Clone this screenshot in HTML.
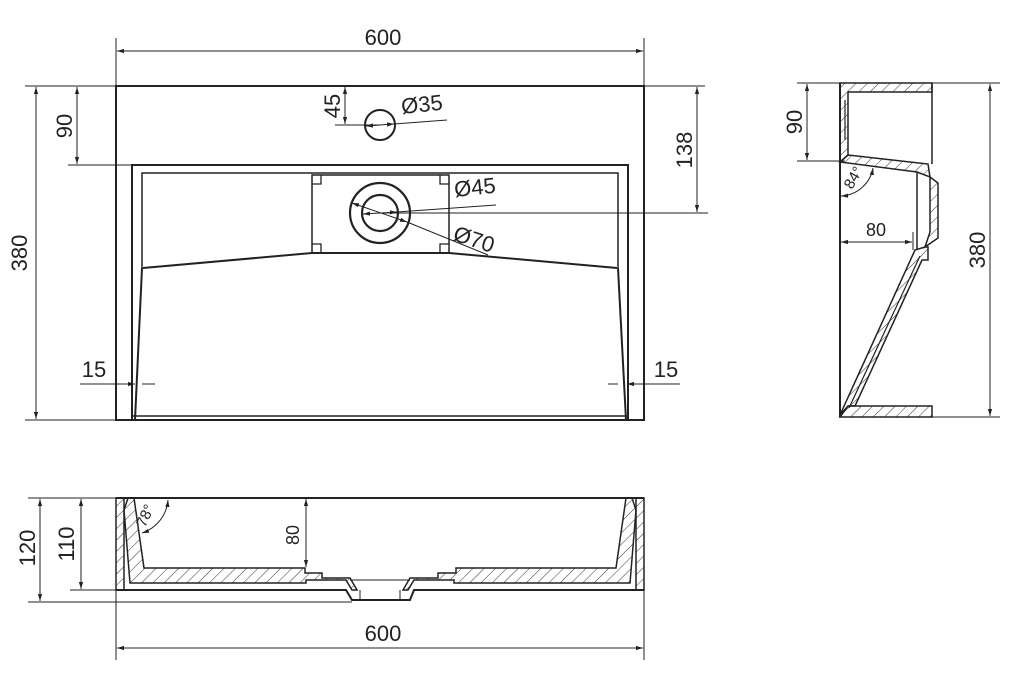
<!DOCTYPE html>
<html><head><meta charset="utf-8"><style>
html,body{margin:0;padding:0;background:#fff;}
svg{display:block;}
text{font-family:"Liberation Sans",sans-serif;fill:#222;}
</style></head><body>
<svg width="1024" height="681" viewBox="0 0 1024 681" xmlns="http://www.w3.org/2000/svg">
<defs>
<pattern id="h" width="8" height="8" patternUnits="userSpaceOnUse" patternTransform="rotate(45)">
<line x1="0" y1="0" x2="0" y2="8" stroke="#333" stroke-width="1"/>
</pattern>
<marker id="a" viewBox="0 0 10 10" refX="10" refY="5" markerWidth="7" markerHeight="7" orient="auto-start-reverse"><path d="M0,2 L10,5 L0,8 z" fill="#222"/></marker>
</defs>
<g stroke="#222" fill="none" stroke-width="1">
<!-- TOP VIEW -->
<rect x="116" y="86" width="528" height="334" stroke-width="2"/>
<path d="M132,420 L132,165 L628,165 L628,420" stroke-width="2"/>
<path d="M142,268 L142,173 L618,173 L618,268" stroke-width="1.5"/>
<path d="M143,268 L312,253 L449,253 L617,268" stroke-width="2"/>
<path d="M142,268 L135,420 M618,268 L626,420" stroke-width="2"/>
<line x1="132" y1="416" x2="628" y2="416" stroke-width="1.5"/>
<rect x="312" y="175" width="137" height="78" stroke-width="1.5"/>
<path d="M312,184h9v-9 M440,175v9h9 M312,244h9v9 M440,253v-9h9" stroke-width="1.3"/>
<circle cx="380" cy="213" r="30" stroke-width="2.2"/>
<circle cx="380" cy="213" r="18" stroke-width="2.2"/>
<circle cx="380" cy="125" r="15" stroke-width="2"/>
<!-- top dims -->
<line x1="116" y1="38" x2="116" y2="86"/><line x1="644" y1="38" x2="644" y2="86"/>
<line x1="117" y1="51" x2="643" y2="51" marker-start="url(#a)" marker-end="url(#a)"/>
<line x1="25" y1="86" x2="116" y2="86"/><line x1="25" y1="420" x2="116" y2="420"/>
<line x1="36" y1="87" x2="36" y2="419" marker-start="url(#a)" marker-end="url(#a)"/>
<line x1="68" y1="165" x2="132" y2="165"/>
<line x1="77" y1="87" x2="77" y2="164" marker-start="url(#a)" marker-end="url(#a)"/>
<line x1="644" y1="86" x2="705" y2="86"/><line x1="380" y1="213" x2="708" y2="213"/>
<line x1="697" y1="87" x2="697" y2="212" marker-start="url(#a)" marker-end="url(#a)"/>
<line x1="335" y1="125" x2="380" y2="125"/>
<line x1="345" y1="87" x2="345" y2="124" marker-start="url(#a)" marker-end="url(#a)"/>
<line x1="366" y1="126" x2="394" y2="124" marker-start="url(#a)" marker-end="url(#a)"/>
<line x1="394" y1="124" x2="447" y2="120"/>
<line x1="363" y1="214" x2="397" y2="212" marker-start="url(#a)" marker-end="url(#a)"/>
<line x1="397" y1="212" x2="496" y2="205"/>
<line x1="352" y1="203" x2="407" y2="222" marker-start="url(#a)" marker-end="url(#a)"/>
<line x1="407" y1="222" x2="488" y2="255"/>
<line x1="80" y1="384" x2="135" y2="384" marker-end="url(#a)"/><line x1="142" y1="384" x2="155" y2="384"/>
<line x1="608" y1="384" x2="618" y2="384"/><line x1="680" y1="384" x2="627" y2="384" marker-end="url(#a)"/>
<!-- SIDE VIEW -->
<path d="M840,83 L932,83 L932,92 L848,92 L848,155 L840,162 Z" fill="url(#h)" stroke-width="1.5"/>
<path d="M840,162 L848,155 L928,164 L930,177 L917,172 Z" fill="url(#h)" stroke-width="1.5"/>
<path d="M845,100 L845,140" stroke-width="1.2"/>
<path d="M930,177 L938,183 L938,238 L925,247 L930,232 L930,188 Z" fill="url(#h)" stroke-width="1.5"/>
<path d="M917,172 L917,250" stroke-width="1.5"/>
<path d="M840,415 L915,250 L925,247 L928,247 L928,260 L922,260 L855,406 L848,406 Z" fill="url(#h)" stroke-width="1.5"/>
<path d="M920,256 L849,408" stroke-width="1.2"/>
<path d="M855,406 L932,406 L932,417 L840,417 L848,406 Z" fill="url(#h)" stroke-width="1.5"/>
<line x1="840" y1="83" x2="840" y2="417" stroke-width="2"/>
<line x1="932" y1="83" x2="932" y2="164" stroke-width="1.5"/>
<line x1="932" y1="83" x2="1000" y2="83"/><line x1="932" y1="417" x2="1000" y2="417"/>
<line x1="990" y1="84" x2="990" y2="416" marker-start="url(#a)" marker-end="url(#a)"/>
<line x1="797" y1="83" x2="840" y2="83"/><line x1="797" y1="161" x2="845" y2="161"/>
<line x1="807" y1="84" x2="807" y2="160" marker-start="url(#a)" marker-end="url(#a)"/>
<line x1="841" y1="242" x2="912" y2="242" marker-start="url(#a)" marker-end="url(#a)"/>
<line x1="913" y1="232" x2="913" y2="250"/>
<path d="M841,196 A34,34 0 0 0 873,168" marker-start="url(#a)" marker-end="url(#a)"/>
<!-- BOTTOM VIEW -->
<path d="M116,498 L124,498 L124,590 L116,590 Z M636,498 L644,498 L644,590 L636,590 Z" fill="url(#h)" stroke-width="1.5"/>
<path d="M124,510 L128,498 L134,498 L144,568 L305,568 L305,573 L322,573 L322,578 L350,578 L357,590 L352,590 L346,580 L306,580 L306,583 L130,583 Z" fill="url(#h)" stroke-width="1.5"/>
<path d="M636,510 L632,498 L626,498 L616,568 L456,568 L456,573 L438,573 L438,578 L410,578 L403,590 L408,590 L414,580 L454,580 L454,583 L630,583 Z" fill="url(#h)" stroke-width="1.5"/>
<line x1="116" y1="498" x2="644" y2="498" stroke-width="2"/>
<path d="M116,590 L346,590 L352,600 L410,600 L414,590 L644,590" stroke-width="2"/>
<path d="M360,590 L360,600 M400,590 L400,600 M350,580 L410,580"/>
<line x1="116" y1="590" x2="116" y2="660"/><line x1="644" y1="590" x2="644" y2="660"/>
<line x1="117" y1="648" x2="643" y2="648" marker-start="url(#a)" marker-end="url(#a)"/>
<line x1="28" y1="498" x2="116" y2="498"/><line x1="28" y1="602" x2="352" y2="602"/><line x1="70" y1="590" x2="116" y2="590"/>
<line x1="40" y1="499" x2="40" y2="601" marker-start="url(#a)" marker-end="url(#a)"/>
<line x1="81" y1="499" x2="81" y2="589" marker-start="url(#a)" marker-end="url(#a)"/>
<line x1="306" y1="499" x2="306" y2="567" marker-start="url(#a)" marker-end="url(#a)"/>
<path d="M142,533 A38,38 0 0 0 168,500" marker-start="url(#a)" marker-end="url(#a)"/>
</g>
<g font-size="22">
<text x="383" y="45" text-anchor="middle">600</text>
<text x="383" y="641" text-anchor="middle">600</text>
<text transform="translate(27,253) rotate(-90)" text-anchor="middle">380</text>
<text transform="translate(72,126) rotate(-90)" text-anchor="middle">90</text>
<text transform="translate(692,150) rotate(-90)" text-anchor="middle">138</text>
<text transform="translate(340,106) rotate(-90)" text-anchor="middle">45</text>
<text transform="translate(402,114) rotate(-6)">Ø35</text>
<text transform="translate(455,197) rotate(-6)">Ø45</text>
<text transform="translate(452,240) rotate(18)">Ø70</text>
<text x="94" y="377" text-anchor="middle">15</text>
<text x="666" y="377" text-anchor="middle">15</text>
<text transform="translate(802,122) rotate(-90)" text-anchor="middle">90</text>
<text transform="translate(985,250) rotate(-90)" text-anchor="middle">380</text>
<text transform="translate(35,548) rotate(-90)" text-anchor="middle">120</text>
<text transform="translate(74,544) rotate(-90)" text-anchor="middle">110</text>
</g>
<g font-size="18">
<text x="876" y="236" text-anchor="middle">80</text>
<text transform="translate(299,535) rotate(-90)" text-anchor="middle">80</text>
<text transform="translate(852,190) rotate(-60)" font-size="15">84°</text>
<text transform="translate(145,528) rotate(-65)" font-size="15">78°</text>
</g>
</svg>
</body></html>
